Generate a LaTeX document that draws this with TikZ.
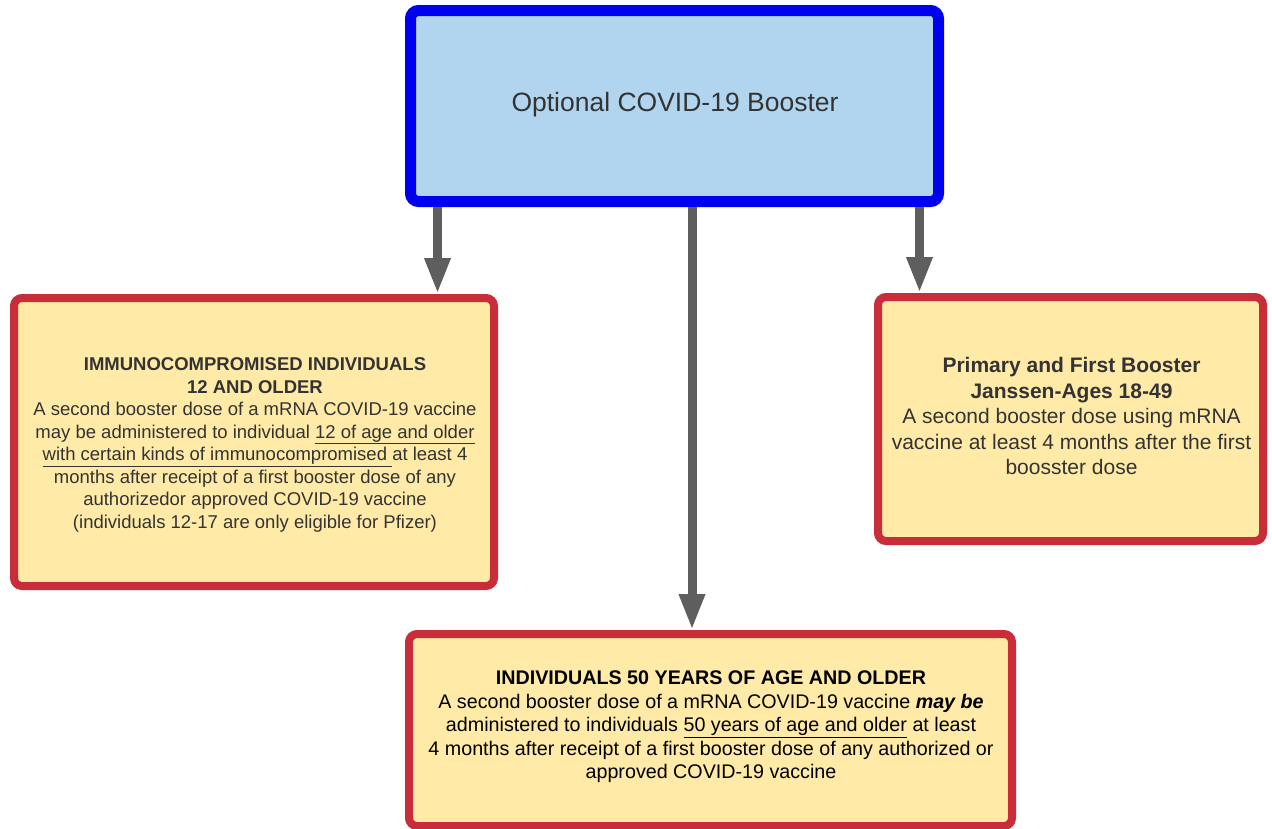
\documentclass[tikz,border=0pt]{standalone}
\usepackage{fontspec}
\setmainfont{Liberation Sans}
\usepackage{tikz}
\usetikzlibrary{positioning,arrows.meta}
\definecolor{headblue}{RGB}{0,0,238}
\definecolor{headfill}{RGB}{177,213,239}
\definecolor{groupred}{RGB}{201,45,57}
\definecolor{groupfill}{RGB}{255,234,167}
\definecolor{flowgray}{RGB}{94,94,94}
\definecolor{textgray}{RGB}{51,51,51}
\tikzstyle{headbox}=[draw=headblue, fill=headfill, line width=11pt, rounded corners=8pt, inner sep=0pt]
\tikzstyle{groupbox}=[draw=groupred, fill=groupfill, line width=8pt, rounded corners=8pt, inner sep=0pt]
\tikzstyle{flow}=[draw=flowgray, line width=9pt, -{Triangle[length=36pt,width=24pt]}]
\tikzstyle{boxtext}=[align=center, text=textgray, inner sep=0pt]

\begin{document}
\begin{tikzpicture}[x=1pt, y=-1pt]
            \fill[white] (0,0) rectangle (1272,828);
            \useasboundingbox (0,0) rectangle (1272,828);
            \clip (0,0) rectangle (1272,828);
            \node[headbox, minimum width=528pt, minimum height=191pt] (booster) at (674.5,106) {};
            \node[groupbox, minimum width=480pt, minimum height=288pt] (immuno) at (254,442) {};
            \node[groupbox, minimum width=385pt, minimum height=244pt] (janssen) at (1070.5,419) {};
            \node[groupbox, minimum width=603pt, minimum height=192pt] (fifty) at (710.5,730) {};
            \coordinate (leftdrop) at (437.5,0);
            \coordinate (middrop) at (692,0);
            \coordinate (rightdrop) at (919.5,0);
            \draw[flow] (leftdrop |- booster.south) -- (leftdrop |- immuno.north);
            \draw[flow] (middrop |- booster.south) -- (middrop |- fifty.north);
            \draw[flow] (rightdrop |- booster.south) -- (rightdrop |- janssen.north);
            \node[boxtext, font=\fontsize{26.5}{32}\selectfont] (boostertitle) at (675,104.5) {Optional COVID-19 Booster};
            \node[boxtext, font=\fontsize{18.5}{22.5}\selectfont] (immunotext) at (255,445) {\textbf{IMMUNOCOMPROMISED INDIVIDUALS}\\ \textbf{12 AND OLDER}\\ A second booster dose of a mRNA COVID-19 vaccine\\ may be administered to individual \underline{12 of age and older}\\ \underline{with certain kinds of immunocompromised }at least 4\\ months after receipt of a first booster dose of any\\ authorizedor approved COVID-19 vaccine\\ (individuals 12-17 are only eligible for Pfizer)};
            \node[boxtext, font=\fontsize{21}{25.5}\selectfont] (janssentext) at (1071.5,416) {\textbf{Primary and First Booster}\\ \textbf{Janssen-Ages 18-49}\\ A second booster dose using mRNA\\ vaccine at least 4 months after the first\\ boosster dose};
            \node[boxtext, text=black, font=\fontsize{19.7}{23.5}\selectfont] (fiftytext) at (711,727) {\textbf{INDIVIDUALS 50 YEARS OF AGE AND OLDER}\\ A second booster dose of a mRNA COVID-19 vaccine \textbf{\textit{may be}}\\ administered to individuals \underline{50 years of age and older} at least\\ 4 months after receipt of a first booster dose of any authorized or\\ approved COVID-19 vaccine};
        \end{tikzpicture}
\end{document}
